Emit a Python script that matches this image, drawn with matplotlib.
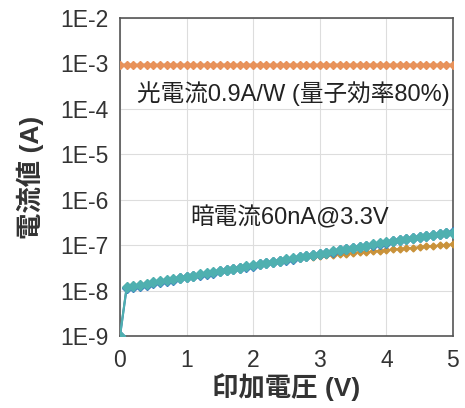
import numpy as np
import matplotlib.pyplot as plt

plt.rcParams['font.family'] = ['Liberation Sans', 'Noto Sans CJK JP', 'DejaVu Sans']

# applied voltage (V), 0.1 V steps
voltage = [round(0.1 * i, 1) for i in range(51)]

# photo current (A)
photo_current = [9.3e-4, 9.3e-4, 9.2e-4, 9.3e-4, 9.3e-4, 9.3e-4, 9.2e-4, 9.3e-4, 9.3e-4, 9.3e-4,
                 9.3e-4, 9.3e-4, 9.2e-4, 9.3e-4, 9.3e-4, 9.3e-4, 9.3e-4, 9.2e-4, 9.3e-4, 9.3e-4,
                 9.3e-4, 9.3e-4, 9.3e-4, 9.2e-4, 9.3e-4, 9.3e-4, 9.3e-4, 9.3e-4, 9.3e-4, 9.2e-4,
                 9.3e-4, 9.3e-4, 9.3e-4, 9.3e-4, 9.2e-4, 9.3e-4, 9.3e-4, 9.3e-4, 9.3e-4, 9.3e-4,
                 9.2e-4, 9.3e-4, 9.3e-4, 9.3e-4, 9.3e-4, 9.2e-4, 9.3e-4, 9.3e-4, 9.3e-4, 9.3e-4,
                 9.3e-4]

# dark current (nA), several devices
dark_a = [1.0, 12.0, 12.7, 13.5, 14.3, 15.2, 16.1, 17.0, 18.1, 19.1, 20.3,
          21.5, 22.8, 24.2, 25.6, 27.2, 28.8, 30.5, 32.4, 34.3, 36.4,
          38.6, 40.9, 43.3, 45.9, 48.7, 51.6, 54.7, 58.0, 61.5, 65.2,
          69.1, 73.2, 77.6, 82.3, 87.2, 92.5, 98.0, 104, 110, 117,
          123, 130, 137, 144, 151, 158, 166, 174, 182, 190]
dark_b = [1.0, 11.3, 12.1, 12.9, 13.7, 14.6, 15.5, 16.5, 17.5, 18.6, 19.7,
          20.9, 22.2, 23.6, 25.0, 26.6, 28.2, 29.9, 31.8, 33.7, 35.8,
          38.0, 40.3, 42.8, 45.4, 48.2, 51.1, 54.2, 57.5, 61.0, 64.7,
          68.6, 72.7, 77.1, 81.7, 86.6, 91.8, 97.3, 103, 109, 115,
          122, 129, 136, 143, 150, 158, 166, 175, 184, 193]
dark_c = [1.0, 12.4, 13.1, 13.9, 14.7, 15.6, 16.5, 17.5, 18.5, 19.6, 20.8,
          22.0, 23.3, 24.7, 26.2, 27.7, 29.4, 31.1, 32.9, 34.8, 36.9,
          39.0, 41.3, 43.7, 46.3, 49.0, 51.6, 53.2, 54.8, 56.5, 58.2,
          60.0, 61.9, 63.8, 65.7, 67.7, 69.8, 72.0, 74.2, 76.4, 78.8,
          81.2, 83.7, 86.2, 88.9, 91.6, 94.4, 97.3, 100, 103, 107]

fig = plt.figure(figsize=(4.65, 4.08), dpi=100)
ax = fig.add_axes([0.258, 0.176, 0.716, 0.78])

ax.plot(voltage, photo_current, color='#e8925a', lw=1.5, marker='D', ms=4, zorder=3)
ax.plot(voltage, np.array(dark_c) * 1e-9, color='#c9923a', lw=1.0, marker='D', ms=3.5, zorder=3)
ax.plot(voltage, np.array(dark_b) * 1e-9, color='#3d7fc0', lw=1.5, marker='D', ms=5, zorder=3)
ax.plot(voltage, np.array(dark_a) * 1e-9, color='#4fb0b0', lw=1.5, marker='D', ms=5, zorder=4)

ax.set_yscale('log')
ax.set_xlim(0, 5)
ax.set_ylim(1e-9, 1e-2)
ax.set_xticks([0, 1, 2, 3, 4, 5])
yt = [1e-9, 1e-8, 1e-7, 1e-6, 1e-5, 1e-4, 1e-3, 1e-2]
ax.set_yticks(yt)
ax.set_yticklabels(['1E-9', '1E-8', '1E-7', '1E-6', '1E-5', '1E-4', '1E-3', '1E-2'])
ax.minorticks_off()
ax.tick_params(length=0, labelsize=16.5, colors='#333333', pad=8)
ax.tick_params(axis='x', pad=9)
ax.grid(True, color='#dddddd', lw=0.8)
ax.set_axisbelow(True)
for s in ax.spines.values():
    s.set_color('#555555')
    s.set_linewidth(1.2)

ax.set_xlabel('印加電圧 (V)', fontsize=19, fontweight='bold', color='#333333', labelpad=1)
ax.set_ylabel('電流値 (A)', fontsize=19, fontweight='bold', color='#333333', labelpad=12)

ax.text(2.6, 2.2e-4, '光電流0.9A/W (量子効率80%)', fontsize=17, ha='center', va='center', color='#222222')
ax.text(2.55, 4.0e-7, '暗電流60nA@3.3V', fontsize=17, ha='center', va='center', color='#222222')

fig.savefig('out.png', dpi=100)
